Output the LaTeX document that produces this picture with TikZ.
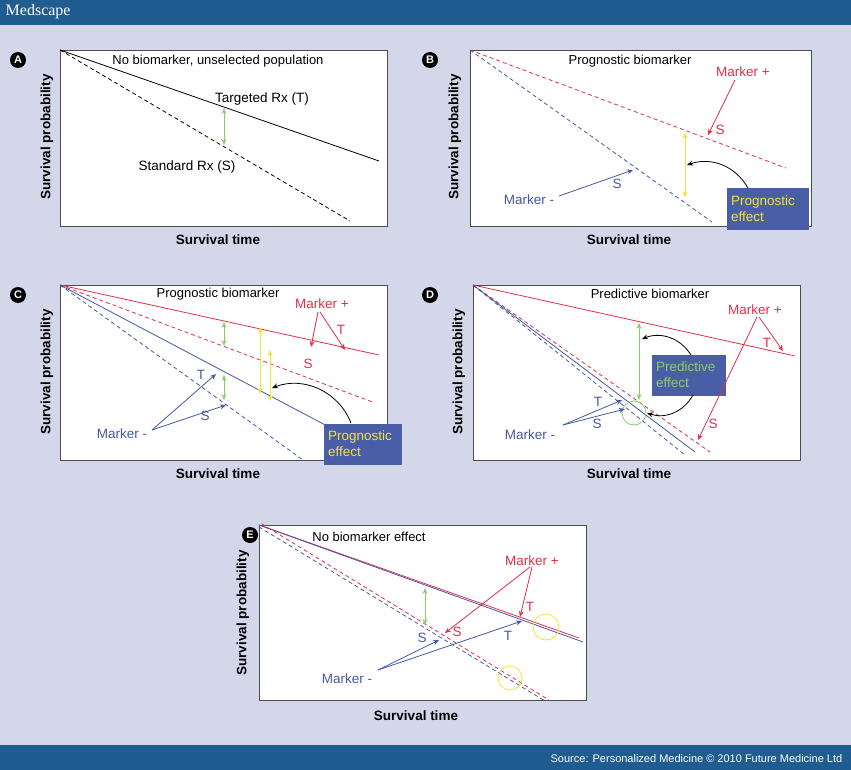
\documentclass[tikz,border=0pt]{standalone}
\usepackage{fontspec}
\setmainfont{Liberation Sans}
\newfontfamily\logofont{Liberation Serif}
\usetikzlibrary{arrows.meta}
\definecolor{bg}{HTML}{D4D7EA}
\definecolor{bar}{HTML}{1F5C90}
\definecolor{mred}{HTML}{E0304A}
\definecolor{mblue}{HTML}{4558A6}
\definecolor{mgreen}{HTML}{8CCB6A}
\definecolor{myel}{HTML}{F2E33A}
\definecolor{boxb}{HTML}{4A5EA8}
\tikzset{
 plotbox/.style={fill=white,draw=black!70,line width=0.8pt},
 ttl/.style={font=\fontsize{13}{15}\selectfont},
 lbl/.style={font=\fontsize{13.5}{15}\selectfont},
 axl/.style={font=\bfseries\fontsize{13.5}{15}\selectfont},
 tip/.style={-{Stealth[length=6pt,width=5pt]}},
 dtip/.style={{Stealth[length=6pt,width=5pt]}-{Stealth[length=6pt,width=5pt]}},
 dsh/.style={dash pattern=on 4pt off 3pt},
 letter/.style={circle,fill=black,text=white,inner sep=0pt,minimum size=16pt,font=\bfseries\fontsize{11}{12}\selectfont},
 effbox/.style={fill=boxb,inner sep=4pt,align=left,font=\fontsize{13.5}{16}\selectfont,minimum height=41pt},
}
\begin{document}
\begin{tikzpicture}[x=1pt,y=-1pt,line width=0.8pt]
\fill[bg] (0,0) rectangle (851,770);
\useasboundingbox (0,0) rectangle (851,770);
\fill[bar] (0,0) rectangle (851,25);
\fill[bar] (0,745) rectangle (851,770);
\node[anchor=west,text=white,font=\logofont\fontsize{16}{17}\selectfont] (logo) at (2,12) {Medscape};
\node[anchor=east,text=white,font=\fontsize{11}{12}\selectfont] (src) at (846,759) {Source: Personalized Medicine © 2010 Future Medicine Ltd};

% ---------- Panel A
\node[letter] (la) at (18,60) {A};
\draw[plotbox] (60,50) coordinate (a0) rectangle (387,226);
\coordinate (aT) at (379,161); \coordinate (aS) at (350,221);
\draw (a0) -- (aT);
\draw[dsh] (a0) -- (aS);
\node[ttl] (ta) at (218,61) {No biomarker, unselected population};
\node[lbl] (at) at (262,99) {Targeted Rx (T)};
\node[lbl] (as) at (187,167) {Standard Rx (S)};
\coordinate (ag1) at (224,108); \coordinate (ag2) at (224,145);
\draw[dtip,mgreen] (ag1) -- (ag2);
\node[axl,rotate=90] (ya) at (47,137) {Survival probability};
\node[axl] (xa) at (218,240) {Survival time};

% ---------- Panel B
\node[letter] (lb) at (430,60) {B};
\draw[plotbox] (470,50) coordinate (b0) rectangle (811,226);
\coordinate (bR) at (786,168); \coordinate (bB) at (712,222);
\draw[dsh,mred] (b0) -- (bR);
\draw[dsh,mblue] (b0) -- (bB);
\node[ttl] (tb) at (630,61) {Prognostic biomarker};
\node[lbl,text=mred] (bmp) at (743,72) {Marker +};
\coordinate (bmpa) at (708,135);
\draw[tip,mred] (735,80) -- (bmpa);
\node[lbl,text=mred] (bs1) at (720,130) {S};
\node[lbl,text=mblue] (bmm) at (529,200) {Marker -};
\coordinate (bmma) at (633,170);
\draw[tip,mblue] (559,196) -- (bmma);
\node[lbl,text=mblue] (bs2) at (617,184) {S};
\draw[dtip,myel] (685,133) -- (685,197);
\node[effbox,text=myel,text width=74pt] (bpe) at (768,209) {Prognostic\\effect};
\draw[tip,black] (bpe.north) ++(-20,0) to[bend right=40] (687,165);
\node[axl,rotate=90] (yb) at (455,137) {Survival probability};
\node[axl] (xb) at (629,240) {Survival time};

% ---------- Panel C
\node[letter] (lc) at (18,295) {C};
\draw[plotbox] (60,285) coordinate (c0) rectangle (387,460);
\draw[mred] (c0) -- (379,355);
\draw[dsh,mred] (c0) -- (375,403);
\draw[mblue] (c0) -- (367,447);
\draw[dsh,mblue] (c0) -- (303,460);
\node[ttl] (tc) at (218,294) {Prognostic biomarker};
\node[lbl,text=mred] (cmp) at (322,304) {Marker +};
\draw[tip,mred] (320,312) -- (345,350);
\draw[tip,mred] (318,312) -- (311,347);
\node[lbl,text=mred] (cT) at (341,330) {T};
\node[lbl,text=mred] (cS) at (308,364) {S};
\draw[dtip,mgreen] (224,322) -- (224,346);
\draw[dtip,mgreen] (224,375) -- (224,400);
\draw[dtip,myel] (260,327) -- (260,394);
\draw[dtip,myel] (270,350) -- (270,401);
\node[lbl,text=mblue] (cmm) at (122,434) {Marker -};
\draw[tip,mblue] (152,430) -- (216,374);
\draw[tip,mblue] (152,430) -- (226,405);
\node[lbl,text=mblue] (cT2) at (201,375) {T};
\node[lbl,text=mblue] (cS2) at (205,416) {S};
\node[effbox,text=myel,text width=70pt] (cpe) at (363,444) {Prognostic\\effect};
\draw[tip,black] (cpe.north) ++(-12,0) to[bend right=45] (272,388);
\node[axl,rotate=90] (yc) at (47,372) {Survival probability};
\node[axl] (xc) at (218,474) {Survival time};

% ---------- Panel D
\node[letter] (ld) at (430,295) {D};
\draw[plotbox] (473,285) coordinate (d0) rectangle (800,460);
\draw[mred] (d0) -- (795,356);
\draw[dsh,mred] (d0) -- (710,452);
\draw[mblue] (d0) -- (695,452);
\draw[dsh,mblue] (d0) -- (685,455);
\node[ttl] (td) at (650,294) {Predictive biomarker};
\draw[dtip,mgreen] (639,323) -- (639,400);
\node[effbox,text=mgreen,text width=66pt] (dpe) at (689,375) {Predictive\\effect};
\draw[tip,black] (691,355) to[bend right=40] (642,339);
\draw[tip,black] (693,395) to[bend left=40] (647,413);
\draw[mgreen] (634,413) circle (12);
\node[lbl,text=mred] (dmp) at (755,310) {Marker +};
\draw[tip,mred] (759,317) -- (783,351);
\draw[tip,mred] (757,317) -- (698,440);
\node[lbl,text=mred] (dT) at (767,343) {T};
\node[lbl,text=mred] (dS) at (713,424) {S};
\node[lbl,text=mblue] (dmm) at (530,435) {Marker -};
\draw[tip,mblue] (563,425) -- (622,400);
\draw[tip,mblue] (563,425) -- (625,409);
\node[lbl,text=mblue] (dT2) at (598,402) {T};
\node[lbl,text=mblue] (dS2) at (597,424) {S};
\node[axl,rotate=90] (yd) at (459,372) {Survival probability};
\node[axl] (xd) at (629,474) {Survival time};

% ---------- Panel E
\node[letter] (le) at (250,535) {E};
\draw[plotbox] (259,525) coordinate (e0) rectangle (586,700);
\draw[mred] (e0) -- (579,638);
\draw[mblue] (e0) -- (583,642);
\draw[dsh,mred] (262,524) -- (549,700);
\draw[dsh,mblue] (259,527) -- (545,701);
\node[ttl] (te) at (369,537) {No biomarker effect};
\draw[dtip,mgreen] (425,588) -- (425,625);
\node[lbl,text=mred] (emp) at (532,561) {Marker +};
\draw[tip,mred] (530,567) -- (445,633);
\draw[tip,mred] (532,567) -- (520,617);
\node[lbl,text=mred] (eS) at (457,632) {S};
\node[lbl,text=mred] (eT) at (530,607) {T};
\node[lbl,text=mblue] (emm) at (347,679) {Marker -};
\draw[tip,mblue] (378,670) -- (439,640);
\draw[tip,mblue] (378,670) -- (522,621);
\node[lbl,text=mblue] (eS2) at (422,638) {S};
\node[lbl,text=mblue] (eT2) at (508,636) {T};
\draw[myel] (546,627) circle (13);
\draw[myel] (510,678) circle (12);
\node[axl,rotate=90] (ye) at (243,613) {Survival probability};
\node[axl] (xe) at (416,716) {Survival time};
\end{tikzpicture}
\end{document}
